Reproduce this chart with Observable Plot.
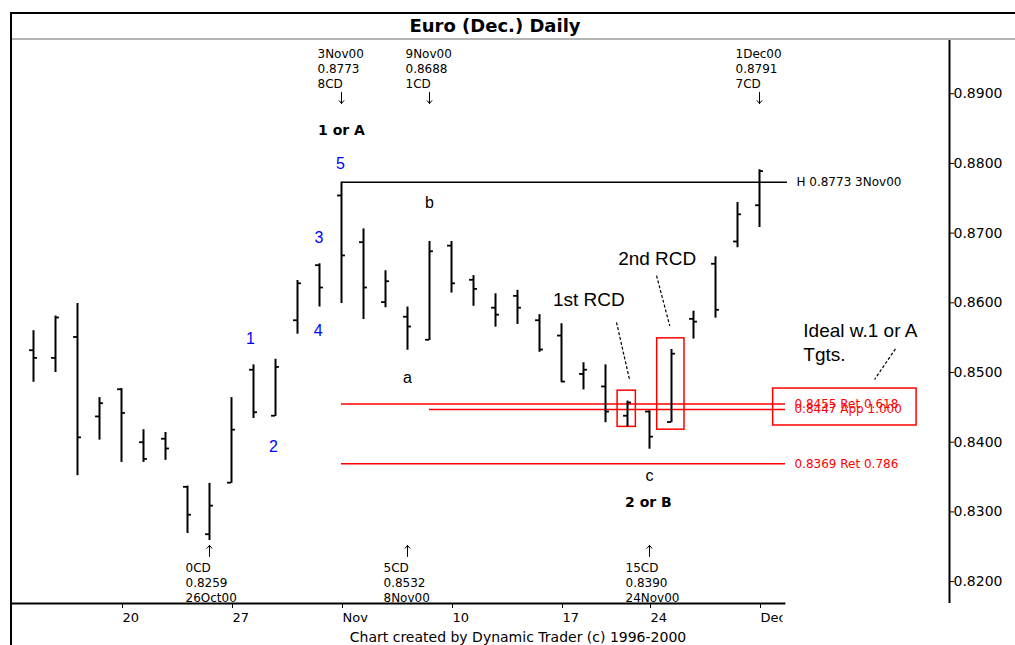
<!DOCTYPE html>
<html><head><meta charset="utf-8">
<script src="https://cdn.jsdelivr.net/npm/d3@7"></script>
<script src="https://cdn.jsdelivr.net/npm/@observablehq/plot@0.6"></script>
<style>
html,body{margin:0;padding:0;background:#fff;}
#wrap{position:relative;width:1015px;height:645px;overflow:hidden;}
#wrap svg{position:absolute;left:0;top:0;}
#frame{position:absolute;left:10px;top:12px;width:1005px;height:633px;border-top:2px solid #000;border-left:2px solid #000;box-sizing:border-box;}
#title{position:absolute;left:11px;top:14px;width:968px;height:24px;text-align:center;font:bold 18px "DejaVu Sans";line-height:24px;color:#000;}
#sep{position:absolute;left:12px;top:38px;width:1003px;height:2px;background:#b4b4b4;}
#caption{position:absolute;left:268px;width:500px;top:629px;text-align:center;font:14px "DejaVu Sans";color:#000;white-space:nowrap;}
</style></head>
<body>
<div id="wrap">
  <div id="chart"></div>
  <div id="frame"></div>
  <div id="title">Euro (Dec.) Daily</div>
  <div id="sep"></div>
  <div id="caption">Chart created by Dynamic Trader (c) 1996-2000</div>
</div>
<script>
// ---- data ----
const tradingDays = ["2000-10-16","2000-10-17","2000-10-18","2000-10-19","2000-10-20",
  "2000-10-23","2000-10-24","2000-10-25","2000-10-26","2000-10-27",
  "2000-10-30","2000-10-31","2000-11-01","2000-11-02","2000-11-03",
  "2000-11-06","2000-11-07","2000-11-08","2000-11-09","2000-11-10",
  "2000-11-13","2000-11-14","2000-11-15","2000-11-16","2000-11-17",
  "2000-11-20","2000-11-21","2000-11-22","2000-11-24",
  "2000-11-27","2000-11-28","2000-11-29","2000-11-30","2000-12-01"];
const opens  = [0.8532,0.8521,0.8551,0.8437,0.8476,0.8400,0.8405,0.8336,0.8268,0.8342,
  0.8504,0.8438,0.8575,0.8654,0.8754,0.8687,0.8601,0.8580,0.8547,0.8682,
  0.8633,0.8593,0.8610,0.8575,0.8553,0.8498,0.8480,0.8438,0.8444,0.8429,0.8577,0.8656,0.8688,0.8740];
const highs  = [0.8560,0.8581,0.8599,0.8464,0.8477,0.8418,0.8414,0.8337,0.8341,0.8464,
  0.8511,0.8519,0.8632,0.8656,0.8773,0.8706,0.8646,0.8594,0.8688,0.8688,
  0.8639,0.8613,0.8618,0.8583,0.8570,0.8514,0.8511,0.8459,0.8445,0.8533,0.8588,0.8666,0.8744,0.8791];
const lows   = [0.8486,0.8500,0.8352,0.8403,0.8371,0.8371,0.8374,0.8269,0.8259,0.8341,
  0.8434,0.8437,0.8555,0.8594,0.8599,0.8576,0.8593,0.8532,0.8546,0.8614,
  0.8595,0.8565,0.8569,0.8529,0.8486,0.8475,0.8428,0.8422,0.8390,0.8428,0.8548,0.8578,0.8679,0.8708];
const closes = [0.8521,0.8579,0.8407,0.8456,0.8442,0.8376,0.8391,0.8296,0.8309,0.8418,
  0.8443,0.8508,0.8628,0.8622,0.8668,0.8622,0.8631,0.8566,0.8674,0.8628,
  0.8620,0.8583,0.8593,0.8533,0.8487,0.8504,0.8444,0.8457,0.8408,0.8527,0.8573,0.8590,0.8727,0.8789];

const tickDays   = ["2000-10-20","2000-10-27","2000-11-03","2000-11-10","2000-11-17","2000-11-24","2000-12-01"];
const tickLabels = ["20","27","Nov","10","17","24","Dec"];
const priceTicks = [0.82,0.83,0.84,0.85,0.86,0.87,0.88,0.89];

// time-cycle notes (top: highs, bottom: lows)
const topNoteDays  = ["2000-11-03","2000-11-09","2000-12-01"];
const topNoteTexts = ["3Nov00\n0.8773\n8CD","9Nov00\n0.8688\n1CD","1Dec00\n0.8791\n7CD"];
const topArrowFrom = 0.8902, topArrowTo = 0.8886;
const botNoteDays  = ["2000-10-26","2000-11-08","2000-11-24"];
const botNoteTexts = ["0CD\n0.8259\n26Oct00","5CD\n0.8532\n8Nov00","15CD\n0.8390\n24Nov00"];
const botArrowFrom = 0.8236, botArrowTo = 0.8252;

// horizontal levels
const levelPrices = [0.8773,0.8455,0.8447,0.8369];
const levelFrom   = ["2000-11-03","2000-11-03","2000-11-09","2000-11-03"];
const levelEnd    = [34.27,34.18,34.18,34.18];
const levelLabels = ["H 0.8773 3Nov00","0.8455 Ret 0.618","0.8447 App 1.000","0.8369 Ret 0.786"];
const levelColors = ["#000","#ff0000","#ff0000","#ff0000"];

// wave labels (x in trading-day index, y in price)
const waveText = ["1","2","3","4","5"];
const waveX    = [9.86,10.91,12.97,12.94,13.95];
const waveY    = [0.8548,0.8394,0.8693,0.8560,0.8799];
const letterText = ["a","b","c"];
const letterX    = [17.0,18.0,28.0];
const letterY    = [0.8492,0.8743,0.8352];
const boldText = ["1 or A","2 or B"];
const boldX    = [14.0,27.95];
const boldY    = [0.8847,0.8314];
const noteText = ["1st RCD","2nd RCD"];
const noteX    = [25.24,28.35];
const noteY    = [0.8604,0.8663];
const idealText = "Ideal w.1 or A\nTgts.";
const idealX = 34.99, idealY = 0.8545;

// boxes and pointers
const boxX1 = [26.55,28.35,33.62], boxX2 = [27.38,29.59,40.14];
const boxY1 = [0.8422,0.8418,0.8424], boxY2 = [0.8474,0.8549,0.8477];
const ptrX1 = [26.50,28.32,39.18], ptrY1 = [0.8572,0.8639,0.8534];
const ptrX2 = [27.09,28.92,38.23], ptrY2 = [0.8490,0.8567,0.8490];

// ---- build ----
const idx = d => tradingDays.indexOf(d);
const bars = tradingDays.map((d,i)=>({i, o:opens[i], h:highs[i], l:lows[i], c:closes[i]}));
const tickIdx = tickDays.map(idx);
const levels = levelPrices.map((p,k)=>({p, x1:idx(levelFrom[k]), x2:levelEnd[k], label:levelLabels[k], color:levelColors[k]}));
const topNotes = topNoteDays.map((d,k)=>({i:idx(d), text:topNoteTexts[k]}));
const botNotes = botNoteDays.map((d,k)=>({i:idx(d), text:botNoteTexts[k]}));
const waves = waveText.map((t,k)=>({t, x:waveX[k], y:waveY[k]}));
const letters = letterText.map((t,k)=>({t, x:letterX[k], y:letterY[k]}));
const bolds = boldText.map((t,k)=>({t, x:boldX[k], y:boldY[k]}));
const notes = noteText.map((t,k)=>({t, x:noteX[k], y:noteY[k]}));
const boxes = boxX1.map((v,k)=>({x1:v, x2:boxX2[k], y1:boxY1[k], y2:boxY2[k]}));
const ptrs = ptrX1.map((v,k)=>({x1:v, y1:ptrY1[k], x2:ptrX2[k], y2:ptrY2[k]}));

const xDomain = [-1, 41.636];
const yDomain = [0.81686, 0.89778];
const axisEnd = 34.2;

const chart = Plot.plot({
  width: 1015, height: 645,
  marginLeft: 11, marginRight: 66, marginTop: 39, marginBottom: 42,
  style: {fontFamily: "DejaVu Sans", fontSize: "12px", background: "transparent", color: "#000"},
  x: {type: "linear", domain: xDomain, axis: null},
  y: {type: "linear", domain: yDomain, axis: null},
  marks: [
    // axes
    Plot.axisY({anchor: "right", ticks: priceTicks, tickFormat: d3.format(".4f"), tickSize: 4, tickPadding: 0, fontSize: 14, fontFamily: "DejaVu Sans", stroke: "#000"}),
    Plot.axisX({anchor: "bottom", ticks: tickIdx, tickFormat: d => tickLabels[tickIdx.indexOf(d)], tickSize: 5, tickPadding: 4, textAnchor: "start", dx: 1, fontSize: 13, fontFamily: "DejaVu Sans", stroke: "#000"}),
    Plot.ruleX([xDomain[1]], {stroke: "#000", strokeWidth: 2}),
    Plot.ruleY([yDomain[0]], {x1: xDomain[0], x2: axisEnd, stroke: "#000", strokeWidth: 2}),
    // levels
    Plot.ruleY(levels, {y: "p", x1: "x1", x2: "x2", stroke: "color", strokeWidth: 1.5}),
    Plot.text(levels, {x: "x2", y: "p", text: "label", fill: "color", textAnchor: "start", dx: 9, fontSize: 12}),
    // boxes & pointers
    Plot.rect(boxes, {x1: "x1", x2: "x2", y1: "y1", y2: "y2", fill: "none", stroke: "#ff0000", strokeWidth: 1.5}),
    Plot.link(ptrs, {x1: "x1", y1: "y1", x2: "x2", y2: "y2", stroke: "#000", strokeWidth: 1.2, strokeDasharray: "3,2"}),
    // OHLC bars
    Plot.ruleX(bars, {x: "i", y1: "l", y2: "h", stroke: "#000", strokeWidth: 2}),
    Plot.ruleY(bars, {y: "o", x1: d => d.i - 0.18, x2: "i", stroke: "#000", strokeWidth: 1.8}),
    Plot.ruleY(bars, {y: "c", x1: "i", x2: d => d.i + 0.18, stroke: "#000", strokeWidth: 1.8}),
    // cycle notes
    Plot.text(topNotes, {x: "i", text: "text", frameAnchor: "top", textAnchor: "start", lineAnchor: "top", dx: -24, dy: 7.6, lineHeight: 1.25, fontSize: 12}),
    Plot.arrow(topNotes, {x: "i", y1: () => topArrowFrom, y2: () => topArrowTo, stroke: "#000", strokeWidth: 1, headLength: 7, headAngle: 80}),
    Plot.text(botNotes, {x: "i", text: "text", frameAnchor: "bottom", textAnchor: "start", lineAnchor: "top", dx: -24, dy: -42.6, lineHeight: 1.25, fontSize: 12}),
    Plot.arrow(botNotes, {x: "i", y1: () => botArrowFrom, y2: () => botArrowTo, stroke: "#000", strokeWidth: 1, headLength: 7, headAngle: 80}),
    // labels
    Plot.text(waves, {x: "x", y: "y", text: "t", fill: "#0000ff", fontSize: 16, fontFamily: "Liberation Sans"}),
    Plot.text(letters, {x: "x", y: "y", text: "t", fill: "#000", fontSize: 16, fontFamily: "Liberation Sans"}),
    Plot.text(bolds, {x: "x", y: "y", text: "t", fill: "#000", fontSize: 14, fontWeight: "bold", fontFamily: "DejaVu Sans"}),
    Plot.text(notes, {x: "x", y: "y", text: "t", fill: "#000", fontSize: 19, fontFamily: "Liberation Sans"}),
    Plot.text([idealText], {x: idealX, y: idealY, text: d => d, textAnchor: "start", lineHeight: 1.3, fill: "#000", fontSize: 19, fontFamily: "Liberation Sans"})
  ]
});
document.getElementById("chart").appendChild(chart);

// clip the x tick labels where the date axis ends (the "Dec" label is cut in the original)
const svg = d3.select(chart);
svg.append("defs").append("clipPath").attr("id", "xclip")
  .append("rect").attr("x", 0).attr("y", 0).attr("width", 781).attr("height", 645);
svg.selectAll('g[aria-label="x-axis tick label"], g[aria-label="x-axis tick label"] text').attr("clip-path", "url(#xclip)");
</script>
</body></html>
